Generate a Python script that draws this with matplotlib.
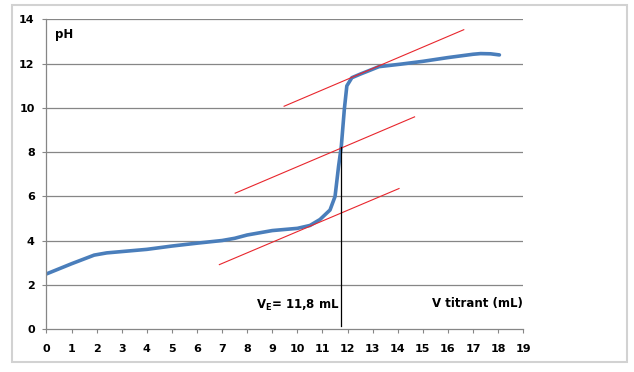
import matplotlib
matplotlib.use("Agg")
import matplotlib.pyplot as plt
from matplotlib.patches import Rectangle

# titration curve
v_titrant = [0, 1, 1.9, 2.4, 3, 4, 5, 6, 7, 7.5, 8, 9, 10, 10.5, 10.9, 11.3,
             11.5, 11.64, 11.75, 11.87, 11.97, 12.17, 12.5, 12.9, 13.25, 14.1,
             15, 16, 17, 17.3, 17.7, 18.05]
ph = [2.49, 2.95, 3.34, 3.44, 3.5, 3.6, 3.75, 3.88, 4.0, 4.1, 4.25, 4.45, 4.55,
      4.68, 4.95, 5.38, 5.99, 7.35, 8.26, 9.93, 10.99, 11.36, 11.52, 11.7,
      11.86, 11.97, 12.1, 12.27, 12.42, 12.45, 12.44, 12.39]

# parallel tangents (tangent method), endpoints
tan_low_x = [6.89, 14.05]
tan_low_y = [2.91, 6.35]
tan_mid_x = [7.52, 14.67]
tan_mid_y = [6.14, 9.59]
tan_up_x = [9.47, 16.63]
tan_up_y = [10.07, 13.53]

# equivalence volume marker
ve_x = [11.72, 11.72]
ve_y = [0.15, 8.23]
ve_text = "V$_\\mathregular{E}$= 11,8 mL"

x_ticks = list(range(0, 20))
y_ticks = list(range(0, 15, 2))

grid_col = "#868686"
plt.rcParams["font.family"] = ["DejaVu Sans"]

fig = plt.figure(figsize=(6.34, 3.72), dpi=100)
ax = fig.add_axes([0.0733, 0.1156, 0.752, 0.8325])

# chart border
fig.patches.append(Rectangle((12 / 634, 1 - 362 / 372), 615 / 634, 357 / 372,
                             transform=fig.transFigure, fill=False,
                             edgecolor="#d2d2d2", lw=1.5))

for yv in y_ticks[1:]:
    ax.axhline(yv, color=grid_col, lw=0.9, zorder=1)

ax.plot(tan_low_x, tan_low_y, color="#e8262d", lw=0.8, zorder=3)
ax.plot(tan_mid_x, tan_mid_y, color="#e8262d", lw=0.8, zorder=3)
ax.plot(tan_up_x, tan_up_y, color="#e8262d", lw=0.8, zorder=3)
ax.plot(v_titrant, ph, color="#4a7ebb", lw=2.6, solid_joinstyle="round",
        solid_capstyle="round", zorder=2)
ax.plot(ve_x, ve_y, color="black", lw=0.9, zorder=4)

ax.set_xlim(0, 19)
ax.set_ylim(0, 14)
ax.set_xticks(x_ticks)
ax.set_yticks(y_ticks)

for s in ["top", "right"]:
    ax.spines[s].set_visible(False)
for s in ["left", "bottom"]:
    ax.spines[s].set_color(grid_col)
    ax.spines[s].set_linewidth(0.9)

ax.tick_params(axis="y", direction="out", length=3, width=0.8, color=grid_col,
               pad=5.5, labelsize=8)
ax.tick_params(axis="x", direction="out", length=3, width=0.8, color=grid_col,
               pad=8, labelsize=8)
for lab in ax.get_xticklabels() + ax.get_yticklabels():
    lab.set_fontweight("bold")

ax.text(0.34, 13.3, "pH", fontsize=8.5, fontweight="bold", va="center", ha="left")
ax.text(19, 1.17, "V titrant (mL)", fontsize=8.5, fontweight="bold",
        va="center", ha="right")
ax.text(11.67, 1.07, ve_text, fontsize=8.5, fontweight="bold",
        va="center", ha="right")

fig.savefig("out.png", dpi=100)
